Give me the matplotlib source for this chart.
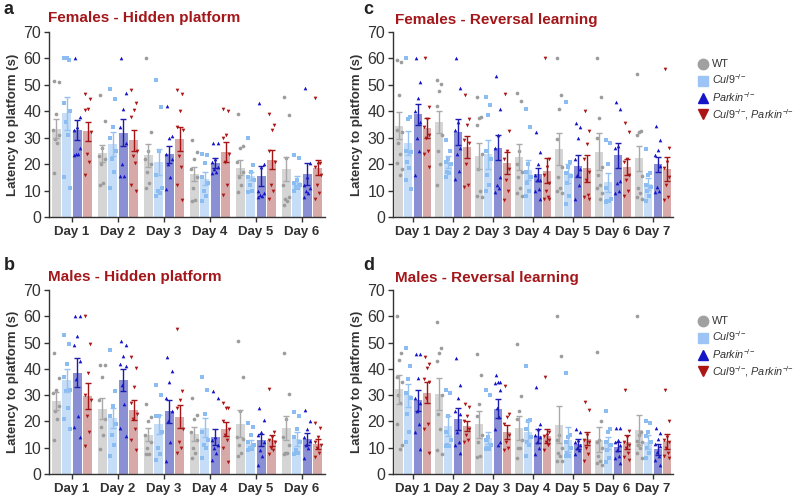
import matplotlib.pyplot as plt
from matplotlib.lines import Line2D
import numpy as np

plt.rcParams['font.family'] = ['Liberation Sans', 'DejaVu Sans']
plt.rcParams['mathtext.fontset'] = 'custom'
plt.rcParams['mathtext.rm'] = 'Liberation Sans'
plt.rcParams['mathtext.it'] = 'Liberation Sans:italic'

days6 = ['Day 1', 'Day 2', 'Day 3', 'Day 4', 'Day 5', 'Day 6']
days7 = days6 + ['Day 7']
labels = ['WT', r'$\mathit{Cul9}^{-\!/\!-}$', r'$\mathit{Parkin}^{-\!/\!-}$',
          r'$\mathit{Cul9}^{-\!/\!-}\!\mathrm{,}\ \mathit{Parkin}^{-\!/\!-}$']

# ---- a: females, hidden platform ----
a_mean = [[33.4, 24.2, 23.3, 16.4, 18.7, 18.2],
          [39.3, 27.7, 20.8, 14.5, 15.4, 13.4],
          [32.8, 31.9, 23.7, 20.5, 15.5, 16.4],
          [32.4, 29.0, 29.4, 24.6, 21.7, 18.7]]
a_sem = [[3.5, 3.2, 4.5, 2.7, 2.7, 4.5],
         [6.2, 4.5, 5.0, 2.5, 1.5, 2.0],
         [3.8, 5.0, 3.3, 2.0, 3.7, 4.2],
         [3.5, 4.0, 4.5, 3.7, 3.7, 2.8]]
a_wt = [[51.5, 51, 39, 33, 31, 29.5, 28, 16.5],
        [46, 36.5, 26, 23, 22, 20, 13, 12],
        [60, 32, 25, 22, 20, 17, 13, 11],
        [29, 24.5, 22, 18, 15, 11, 6.5, 6],
        [39, 27, 26, 21, 17, 15, 12, 9.5],
        [45.5, 38.5, 22.5, 12, 7.5, 7, 6, 4.5]]
a_cul9 = [[60, 59.5, 60, 43, 40, 36, 31, 15, 11],
          [48.5, 44.5, 34, 30, 25, 22, 17, 11],
          [52, 41.5, 25, 16, 11, 10, 9, 8],
          [24, 23.5, 20.5, 15, 13, 10, 8, 6],
          [30, 19.5, 17, 15, 14, 12, 10, 9.5],
          [23.5, 22.5, 14, 13, 12, 11.5, 11, 10]]
a_parkin = [[60, 38, 34, 33, 26, 24, 24, 23.5],
            [60, 47, 41, 34, 28, 20, 15.5, 15.5],
            [42, 30.5, 30, 24, 22, 20, 15, 10.5],
            [28, 28, 22, 21, 19, 18, 17, 16.5],
            [43, 20, 19, 10, 9, 8.5, 8, 7.5],
            [49, 20.5, 15, 12, 11, 10, 9, 7.5]]
a_double = [[46.5, 44.5, 41, 40.5, 32, 24, 21, 16],
            [48, 43, 40.5, 38, 25, 23, 20.5, 12, 10],
            [48, 46.5, 40, 34, 33, 23, 19, 12, 6.5],
            [41, 40, 31, 30, 24, 21, 12, 8.5],
            [39, 35, 33, 25, 21, 12, 10, 7],
            [45, 20.5, 20, 19, 16, 12, 9, 7]]

# ---- b: males, hidden platform ----
b_mean = [[27.8, 24.9, 14.9, 15.2, 19.1, 17.5],
          [35.6, 21.3, 19.0, 17.6, 11.6, 13.3],
          [38.5, 35.8, 23.8, 14.2, 13.0, 13.4],
          [29.7, 24.3, 21.8, 17.1, 12.8, 11.5]]
b_sem = [[3.3, 4.0, 2.5, 2.7, 5.2, 4.4],
         [4.3, 3.9, 3.6, 3.7, 1.4, 2.8],
         [5.5, 4.2, 4.5, 3.0, 2.2, 2.2],
         [5.1, 3.8, 4.4, 2.5, 2.1, 1.9]]
b_wt = [[46, 36.5, 32, 31, 26, 24, 21, 13],
        [41.5, 41.5, 37, 28, 21, 18, 15, 9.5],
        [26.5, 21.5, 20, 15, 12, 10, 7.5, 7.5],
        [29, 22.5, 21, 16, 13, 10, 8, 6],
        [50.5, 37, 24, 14, 13.5, 11, 8, 7],
        [46, 30.5, 21, 14, 11, 8, 8, 7.5]]
b_cul9 = [[53, 49.5, 42, 37, 32, 31.5, 25, 21, 17],
          [47, 31.5, 26, 22, 19, 15, 11, 7],
          [34, 30, 22, 22, 16, 10, 7.5, 5.5],
          [37, 32, 23, 16, 13, 11, 10, 6],
          [19.5, 18, 15, 12, 11, 10, 9.5, 9],
          [23.5, 22, 17, 14, 12, 9, 8, 7.5]]
b_parkin = [[60, 60, 52.5, 49, 43, 36, 22, 18, 14],
            [50.5, 49, 45, 42, 41, 34, 26.5, 17.5, 14.5],
            [44.5, 39, 35, 29, 24, 20, 12, 5],
            [31.5, 29, 14, 13, 11, 10, 8, 5.5],
            [25, 20.5, 16, 15, 12, 9, 7, 3.5],
            [24.5, 20, 17, 14, 12.5, 11, 10, 6]]
b_double = [[60, 49.5, 38.5, 30, 28, 22, 16, 10.5],
            [44.5, 40.5, 33, 27, 23, 21, 17, 13, 9],
            [55, 31.5, 28, 25, 17, 12, 10, 8],
            [27, 25, 25, 20, 17, 15, 13, 10, 4.5],
            [32.5, 16, 14, 13, 12, 10, 9, 7.5],
            [19.5, 17.5, 14, 12, 11, 10, 8, 6.5]]

# ---- c: females, reversal learning ----
c_mean = [[34.6, 35.8, 23.2, 22.6, 25.7, 24.7, 22.2],
          [27.9, 20.7, 23.7, 17.8, 16.5, 13.1, 12.5],
          [38.9, 32.2, 26.2, 16.2, 19.4, 23.3, 20.0],
          [33.6, 26.4, 20.5, 17.5, 18.4, 19.0, 18.2]]
c_sem = [[5.0, 4.2, 4.9, 5.0, 6.0, 7.0, 4.8],
         [4.6, 2.2, 5.4, 3.8, 3.7, 3.5, 2.2],
         [4.0, 5.0, 4.7, 2.5, 4.2, 4.8, 2.8],
         [3.8, 4.1, 4.1, 4.7, 5.1, 3.1, 4.6]]
c_wt = [[59.5, 58.5, 46, 33, 32, 28, 24, 20.5, 18, 16],
        [52, 50.5, 47.5, 42, 31, 25, 20, 12],
        [45.5, 38, 37.5, 35, 24, 18, 10, 8, 7.5],
        [47, 44, 25, 20, 17, 15, 11, 9, 8],
        [60, 46, 41, 29.5, 19, 15, 11, 10, 9],
        [60, 45.5, 37.5, 30, 19, 16, 12, 11, 9, 7],
        [54, 32.5, 32, 31, 15.5, 11, 9, 7.5, 7]]
c_cul9 = [[60, 38, 37, 25, 24.5, 21, 18.5, 14, 10.5],
          [29, 25, 22, 21, 20, 17, 16.5, 15],
          [45.5, 42.5, 38.5, 25, 22, 16, 12, 10],
          [41, 34, 20, 17, 15, 13, 10, 8],
          [43.5, 21, 19, 16.5, 15.5, 13, 8, 5],
          [29, 28, 20, 11, 7, 6, 6, 5.5],
          [25.7, 16.5, 16, 12, 11.5, 10, 8, 6]]
c_parkin = [[60, 51, 45, 40, 36, 30, 25, 16],
            [60, 49, 36, 33, 26, 24, 17.5, 14.5],
            [53.5, 41, 31, 26, 15, 12, 11, 9.5],
            [32, 24.5, 20, 16, 14, 14, 10.5, 10, 7],
            [35.5, 34, 30, 22, 18, 16, 12, 7],
            [43.5, 41, 27, 26, 13.5, 13, 10, 9],
            [34.5, 29, 25.3, 23.5, 19.3, 11.5, 10, 9.5]]
c_double = [[60, 41.5, 37, 34, 31, 30, 25, 24, 19],
            [46, 37, 35, 29, 28, 20, 12, 11.5],
            [46.5, 32.5, 25, 22, 18, 14, 10, 6.5],
            [60, 22, 19, 16, 13, 10, 7.5, 7, 7],
            [40, 32.5, 27.5, 22, 17, 14, 8.5, 7.5, 7],
            [35.5, 32, 22, 21, 16, 14, 10, 8],
            [56, 26, 21, 18.5, 15.2, 12, 7.5, 6.5]]

# ---- d: males, reversal learning ----
d_mean = [[32.3, 30.4, 18.9, 17.5, 18.7, 13.1, 16.7],
          [29.9, 18.2, 13.8, 16.0, 13.1, 11.7, 12.3],
          [28.1, 20.8, 24.9, 14.4, 11.4, 10.4, 9.5],
          [31.0, 18.2, 15.9, 14.5, 13.5, 12.3, 12.5]]
d_sem = [[5.5, 6.2, 5.1, 4.5, 7.0, 4.7, 5.7],
         [4.5, 3.8, 2.2, 4.3, 4.7, 2.2, 2.6],
         [4.0, 4.2, 3.6, 2.6, 1.9, 1.8, 2.1],
         [3.9, 1.9, 2.6, 2.6, 2.5, 2.6, 2.8]]
d_wt = [[60, 46, 43.5, 37, 35, 30, 27, 19, 11, 9.5],
        [58, 48, 46, 43, 30, 23, 17, 9, 7.5],
        [45.5, 37.5, 26.5, 22, 15, 12, 7, 6.5],
        [49.5, 29.5, 24, 21, 13, 10, 10, 6],
        [60, 45, 15, 13, 10, 8, 7, 5, 5],
        [46.5, 20, 13, 12, 10, 7, 5, 4, 3.5],
        [60, 16, 15, 12.5, 12, 11, 10, 8, 6]]
d_cul9 = [[48, 41, 36, 31, 29, 23, 16, 12],
          [32, 31, 22, 16, 13, 11, 10.5, 10.5],
          [32, 30, 14, 13, 11, 10, 9.5, 9.5],
          [41, 20.5, 20, 17, 14, 12, 11, 7],
          [38.5, 15, 14, 12, 10, 8, 7, 7],
          [24, 17, 16, 12, 11, 9, 6, 4.5],
          [20, 19.5, 16, 14.5, 12, 10, 8, 6]]
d_parkin = [[45.5, 45.5, 36.5, 29, 27, 24, 19, 16, 9.5],
            [44, 34, 29, 24, 23, 16, 12, 11, 8],
            [37.5, 35, 35, 34.5, 32, 25, 21.5, 17, 12, 11],
            [33, 19, 17, 15, 14, 12, 10, 7.5],
            [17, 16, 13, 12, 11, 10, 9, 7.5],
            [17.5, 17.5, 13, 12, 11, 9, 7, 6, 4],
            [17.4, 15.5, 13.5, 11.5, 10.5, 8.5, 7, 5.5, 3.5]]
d_double = [[44.5, 42, 40.5, 36, 35, 29, 19, 17, 8],
            [26.5, 25.5, 22, 20, 17, 15, 13, 12],
            [33.5, 23, 21.5, 19, 15, 12, 10, 9],
            [37, 16, 15, 14.5, 13, 12, 11, 9],
            [27.5, 24.5, 15, 13, 12, 10, 7.5, 5],
            [32, 16.5, 14, 12, 11, 10, 8, 6.5, 5.5],
            [32, 20, 14, 13, 12, 10, 8, 7, 6]]

bar_colors = ['#d5d5d5', '#c6ddf7', '#8b90d4', '#d7a9a9']
dot_colors = ['#9c9c9c', '#8bbcf2', '#1515c8', '#ad1515']
err_colors = ['#a9a9a9', '#94c2f2', '#1c1cb0', '#a51515']
legend_colors = ['#a0a0a0', '#9cc5f5', '#1515c8', '#ad1515']
markers = ['o', 's', '^', 'v']
jitter = [-0.05, 0.05, 0.0, -0.07, 0.07, -0.025, 0.025, -0.06, 0.06, 0.01]
title_color = '#a3161a'
text_color = '#333333'


def draw_panel(ax, days, means, sems, points):
    x = np.arange(len(days))
    for g in range(4):
        xs = x + (g - 1.5) * 0.228
        ax.bar(xs, means[g], width=0.2, color=bar_colors[g], zorder=1)
        for d in range(len(days)):
            vals = points[g][d]
            jit = np.array([jitter[i % len(jitter)] for i in range(len(vals))])
            ax.scatter(xs[d] + jit, vals, marker=markers[g], s=7,
                       color=dot_colors[g], linewidths=0, zorder=3)
        ax.errorbar(xs, means[g], yerr=sems[g], fmt='none', ecolor=err_colors[g],
                    elinewidth=1, capsize=2, capthick=1, zorder=4)
    ax.set_xlim(-0.5, len(days) - 0.5)
    ax.set_ylim(0, 70)
    ax.set_yticks(range(0, 71, 10))
    ax.set_xticks(x)
    ax.set_xticklabels(days, fontweight='bold', fontsize=9.5, color=text_color)
    ax.tick_params(axis='y', labelsize=11.5, colors=text_color, length=3.5, width=1, pad=2)
    ax.tick_params(axis='x', length=3.5, width=1, colors=text_color, pad=3)
    ax.set_ylabel('Latency to platform (s)', fontweight='bold', fontsize=9.5,
                  color=text_color, labelpad=3)
    for s in ['top', 'right']:
        ax.spines[s].set_visible(False)
    for s in ['left', 'bottom']:
        ax.spines[s].set_color(text_color)
        ax.spines[s].set_linewidth(1)


fig = plt.figure(figsize=(7.93, 4.99), dpi=100)
W, H = 793.0, 499.0

ax_a = fig.add_axes([49 / W, 1 - 217 / H, 276 / W, 185 / H])
ax_b = fig.add_axes([49 / W, 1 - 474 / H, 276 / W, 184 / H])
ax_c = fig.add_axes([393 / W, 1 - 217 / H, 280 / W, 185 / H])
ax_d = fig.add_axes([393 / W, 1 - 474 / H, 280 / W, 184 / H])

draw_panel(ax_a, days6, a_mean, a_sem, [a_wt, a_cul9, a_parkin, a_double])
draw_panel(ax_b, days6, b_mean, b_sem, [b_wt, b_cul9, b_parkin, b_double])
draw_panel(ax_c, days7, c_mean, c_sem, [c_wt, c_cul9, c_parkin, c_double])
draw_panel(ax_d, days7, d_mean, d_sem, [d_wt, d_cul9, d_parkin, d_double])

titles = [('Females - Hidden platform', 48, 18), ('Males - Hidden platform', 48, 277),
          ('Females - Reversal learning', 395, 20), ('Males - Reversal learning', 395, 278)]
for t, px, py in titles:
    fig.text(px / W, 1 - py / H, t, color=title_color, fontweight='bold',
             fontsize=11, va='center', ha='left')

for letter, px, py in [('a', 4, 9), ('b', 4, 265), ('c', 363, 9), ('d', 363, 265)]:
    fig.text(px / W, 1 - py / H, letter, fontweight='bold', fontsize=13,
             va='center', ha='left', color='#222222')

handles = [Line2D([], [], ls='none', marker=markers[g], color=legend_colors[g],
                  markersize=7.5 if g == 0 else 7)
           for g in range(4)]
for y0 in [54, 311]:
    fig.legend(handles, labels, loc='upper left', bbox_to_anchor=(692 / W, 1 - y0 / H),
               frameon=False, fontsize=7.8, handlelength=1.0, handletextpad=0.3,
               labelspacing=0.3, borderpad=0, labelcolor=text_color)

fig.savefig('out.png', dpi=100)
